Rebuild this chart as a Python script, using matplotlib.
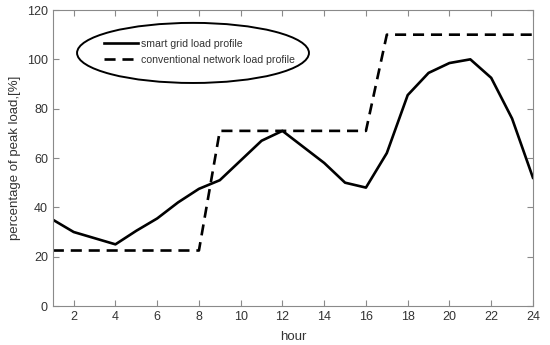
import matplotlib
matplotlib.use("Agg")
import matplotlib.pyplot as plt
from matplotlib.patches import Ellipse

plt.rcParams["font.family"] = ["Liberation Sans", "DejaVu Sans"]

# -------------------------------------------------------------------
# Data
# -------------------------------------------------------------------
hours = list(range(1, 25))
smart_grid = [35, 30, 27.5, 25, 30.5, 35.5, 42, 47.5, 51, 59, 67, 71,
              64.5, 58, 50, 48, 62, 85.5, 94.5, 98.5, 100, 92.5, 76, 52]
conventional = [22.5] * 8 + [71] * 8 + [110] * 8

x_ticks = list(range(2, 25, 2))
y_ticks = [0, 20, 40, 60, 80, 100, 120]

# -------------------------------------------------------------------
# Plot
# -------------------------------------------------------------------
fig = plt.figure(figsize=(5.5, 3.45), dpi=100)
ax = fig.add_axes([0.096, 0.113, 0.873, 0.858])

ax.plot(hours, smart_grid, color="black", lw=1.9, label="smart grid load profile")
ax.plot(hours, conventional, color="black", lw=1.9, linestyle=(0, (4.2, 2.6)),
        label="conventional network load profile")

ax.set_xlim(1, 24)
ax.set_ylim(0, 120)
ax.set_xticks(x_ticks)
ax.set_yticks(y_ticks)

grey = "#8a8a8a"
for s in ax.spines.values():
    s.set_color(grey)
    s.set_linewidth(0.8)
ax.tick_params(direction="in", top=True, right=True, length=4, width=0.8,
               color=grey, labelcolor="#333333", labelsize=9)

ax.set_xlabel("hour", fontsize=9.5, color="#333333", labelpad=2)
ax.xaxis.set_label_coords(0.5, -0.085)
ax.set_ylabel("percentage of peak load,[%]", fontsize=9.5, color="#333333", labelpad=4)

leg = ax.legend(loc="upper left", bbox_to_anchor=(0.098, 0.917), frameon=False,
                fontsize=7.6, handlelength=3.2, handletextpad=0.3, labelspacing=0.6,
                borderaxespad=0)
for t in leg.get_texts():
    t.set_color("#333333")

ax.add_patch(Ellipse((0.292, 0.855), 0.483, 0.203, transform=ax.transAxes,
                     fill=False, edgecolor="black", lw=1.4, clip_on=False))

fig.savefig("out.png", dpi=100)
